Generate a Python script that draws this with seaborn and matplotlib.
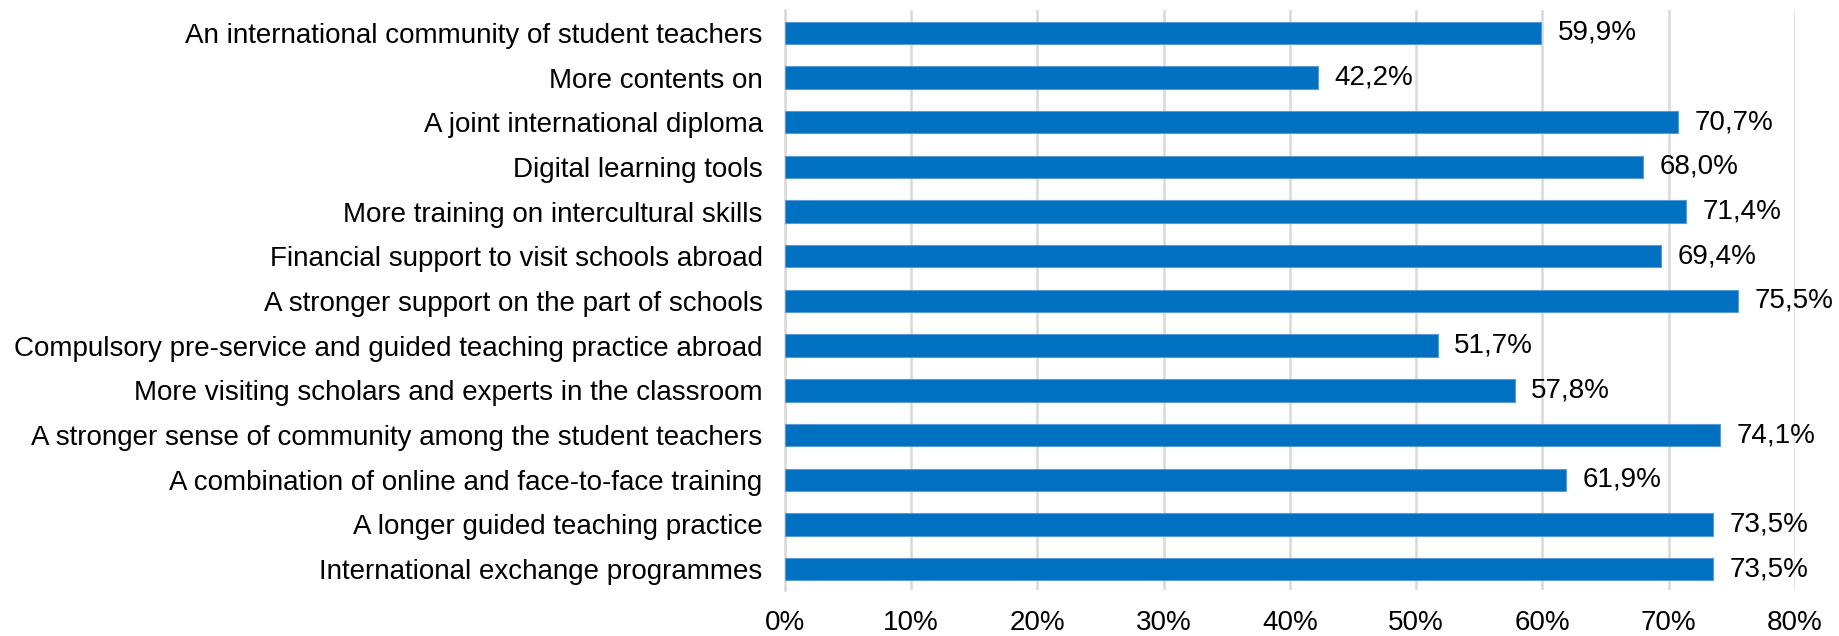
import pandas as pd
import matplotlib.pyplot as plt
import seaborn as sns
from matplotlib.ticker import FuncFormatter

# Chart data (top to bottom)
categories = [
    "An international community of student teachers",
    "More contents on",
    "A joint international diploma",
    "Digital learning tools",
    "More training on intercultural skills",
    "Financial support to visit schools abroad",
    "A stronger support on the part of schools",
    "Compulsory pre-service and guided teaching practice abroad",
    "More visiting scholars and experts in the classroom",
    "A stronger sense of community among the student teachers",
    "A combination of online and face-to-face training",
    "A longer guided teaching practice",
    "International exchange programmes",
]
values = [59.9, 42.2, 70.7, 68.0, 71.4, 69.4, 75.5, 51.7, 57.8, 74.1, 61.9, 73.5, 73.5]
x_ticks = [0, 10, 20, 30, 40, 50, 60, 70, 80]

df = pd.DataFrame({"category": categories, "value": values})

sns.set_theme(style="white")
plt.rcParams['font.family'] = ['Liberation Sans', 'DejaVu Sans']

fig = plt.figure(figsize=(18.4, 6.36), dpi=100)
ax = fig.add_axes([0.4266, 0.073, 0.5489, 0.911])

sns.barplot(data=df, x="value", y="category", orient="h", color="#0070C0",
            width=0.5, saturation=1, edgecolor="#5B9BD5", linewidth=0.8,
            ax=ax, zorder=3)

# value labels with comma decimals
for patch, v in zip(ax.patches, values):
    ax.annotate(f"{v:.1f}%".replace(".", ","),
                xy=(patch.get_x() + patch.get_width(), patch.get_y() + patch.get_height() / 2),
                xytext=(12, 0), textcoords="offset points",
                ha="left", va="center", fontsize=20, color="#000000")

ax.set_xlim(0, 80)
ax.set_ylim(12.46, -0.51)
ax.set_xticks(x_ticks)
ax.xaxis.set_major_formatter(FuncFormatter(lambda x, _: f"{x:.0f}%"))
ax.grid(axis="x", color="#D9D9D9", linewidth=1.8, zorder=0)
ax.set_axisbelow(True)

for s in ["top", "right", "bottom"]:
    ax.spines[s].set_visible(False)
ax.spines["left"].set_color("#D9D9D9")
ax.spines["left"].set_linewidth(1.8)

ax.tick_params(axis="y", length=0, pad=16, labelsize=20, labelcolor="#000000")
ax.tick_params(axis="x", length=0, pad=15, labelsize=20, labelcolor="#000000")
ax.set_xlabel("")
ax.set_ylabel("")

plt.savefig("out.png", dpi=100)
